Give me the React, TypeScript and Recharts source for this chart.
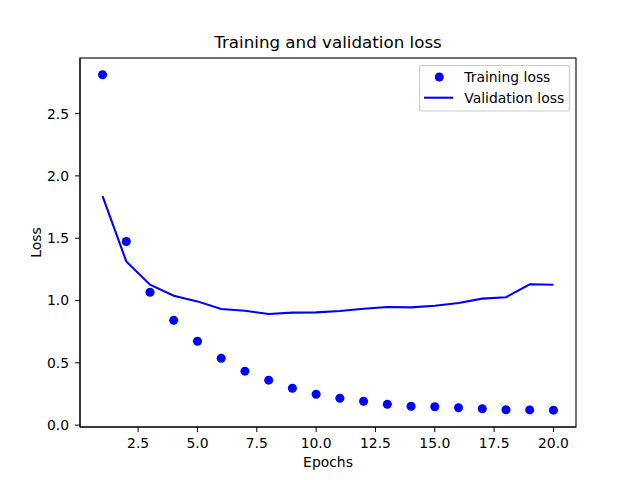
import { ComposedChart, Scatter, Line, XAxis, YAxis } from "recharts";

// values
const epochs = [1, 2, 3, 4, 5, 6, 7, 8, 9, 10, 11, 12, 13, 14, 15, 16, 17, 18, 19, 20];
const trainingLoss = [
  2.812, 1.474, 1.066, 0.841, 0.673, 0.537, 0.433, 0.361, 0.296, 0.248,
  0.216, 0.192, 0.168, 0.152, 0.147, 0.139, 0.131, 0.123, 0.122, 0.12,
];
const validationLoss = [
  1.837, 1.314, 1.127, 1.039, 0.993, 0.932, 0.918, 0.892, 0.903, 0.905,
  0.916, 0.934, 0.948, 0.945, 0.958, 0.98, 1.015, 1.026, 1.13, 1.127,
];
const xTicks = [2.5, 5, 7.5, 10, 12.5, 15, 17.5, 20];
const yTicks = [0, 0.5, 1, 1.5, 2, 2.5];

const trainingData = epochs.map((epoch, i) => ({ epoch, loss: trainingLoss[i] }));
const validationData = epochs.map((epoch, i) => ({ epoch, loss: validationLoss[i] }));

const BLUE = "#0000ff";
const FONT = "'DejaVu Sans', sans-serif";
const tickStyle = { fill: "#000", fontSize: 13.9, fontFamily: FONT };
const xDomain = [0.05, 20.95];
const yDomain = [-0.015, 2.946];

export default function App() {
  return (
    <div style={{ position: "absolute", left: 0, top: 0, width: 640, height: 480, background: "#fff" }}>
      <ComposedChart width={640} height={480} margin={{ top: 58, right: 64, bottom: 0, left: 0 }}>
        <XAxis
          dataKey="epoch"
          type="number"
          domain={xDomain}
          ticks={xTicks}
          allowDataOverflow
          height={53}
          tick={tickStyle}
          tickSize={5}
          tickMargin={6}
          tickFormatter={(v: number) => v.toFixed(1)}
          stroke="#000"
        />
        <YAxis
          type="number"
          domain={yDomain}
          ticks={yTicks}
          allowDataOverflow
          width={80}
          tick={tickStyle}
          tickSize={5}
          tickMargin={6}
          tickFormatter={(v: number) => v.toFixed(1)}
          stroke="#000"
        />
        <Line
          data={validationData}
          dataKey="loss"
          type="linear"
          stroke={BLUE}
          strokeWidth={2.08}
          dot={false}
          isAnimationActive={false}
        />
        <Scatter data={trainingData} dataKey="loss" fill={BLUE} isAnimationActive={false} />
      </ComposedChart>
      <svg
        width={640}
        height={480}
        style={{ position: "absolute", left: 0, top: 0, pointerEvents: "none", fontFamily: FONT }}
      >
        {/* axes frame */}
        <rect x={80} y={58} width={496} height={369} fill="none" stroke="#000" strokeWidth={1.1} />
        <text x={328} y={48.3} textAnchor="middle" fontSize={16.7} fill="#000">
          Training and validation loss
        </text>
        <text x={328} y={466.5} textAnchor="middle" fontSize={13.9} fill="#000">
          Epochs
        </text>
        <text x={40.6} y={242.4} textAnchor="middle" fontSize={13.9} fill="#000" transform="rotate(-90 40.6 242.4)">
          Loss
        </text>
        <rect x={419.5} y={65.5} width={150} height={45.5} rx={2.5} fill="#fff" fillOpacity={0.8} stroke="#cccccc" strokeWidth={1.1} />
        <circle cx={439.3} cy={77} r={4.5} fill={BLUE} />
        <line x1={424} y1={97.7} x2={453.3} y2={97.7} stroke={BLUE} strokeWidth={2.08} />
        <text x={464.3} y={82} fontSize={13.9} fill="#000">Training loss</text>
        <text x={464.3} y={102.8} fontSize={13.9} fill="#000">Validation loss</text>
      </svg>
    </div>
  );
}
